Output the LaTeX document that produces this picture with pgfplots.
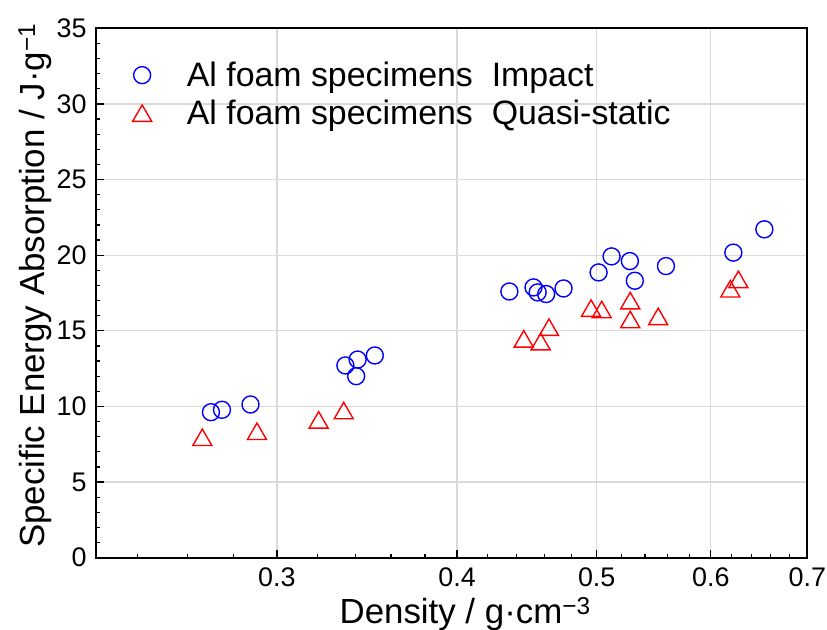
\documentclass[border=0pt]{standalone}
\usepackage{pgfplots}
\pgfplotsset{compat=1.18}
\usepackage{fontspec}
\setmainfont{Liberation Sans}
\begin{document}
\begin{tikzpicture}
\begin{axis}[
  at={(0,0)}, anchor=south west,
  scale only axis, width=711.3bp, height=529.4bp,
  xmode=log, xmin=0.2247, xmax=0.7, ymin=0, ymax=35,
  xtick={0.3,0.4,0.5,0.6,0.7},
  xticklabels={0.3,0.4,0.5,0.6,0.7},
  minor xtick={0.24,0.26,0.28,0.32,0.34,0.36,0.38,0.42,0.44,0.46,0.48,0.52,0.54,0.56,0.58,0.62,0.64,0.66,0.68},
  ytick={0,5,10,15,20,25,30,35},
  minor ytick={1,2,3,4,6,7,8,9,11,12,13,14,16,17,18,19,21,22,23,24,26,27,28,29,31,32,33,34},
  tick align=inside, xtick pos=bottom, ytick pos=left,
  major tick length=8bp, minor tick length=4bp,
  every tick/.style={black, line width=1.3bp},
  axis line style={line width=2bp},
  grid=major, major grid style={color=black!15, line width=1.2bp},
  /pgf/number format/assume math mode=true,
  tick label style={font=\fontsize{27}{32}\selectfont},
  yticklabel style={xshift=-6bp},
  xticklabel style={yshift=-6bp},
  xlabel={Density / g·cm\textsuperscript{−3}},
  ylabel={Specific Energy Absorption / J·g\textsuperscript{−1}},
  label style={font=\fontsize{35}{40}\selectfont},
  xlabel style={at={(axis description cs:0.519,-0.106)}, anchor=center},
  ylabel style={at={(axis description cs:-0.086,0.514)}, anchor=center},
  legend style={draw=none, fill=none, at={(axis description cs:0.0285,0.944)}, anchor=north west,
    font=\fontsize{34}{40}\selectfont, row sep=8bp},
  legend cell align=left,
  legend image code/.code={\path (-22bp,0bp) (42bp,0bp); \draw[#1] plot coordinates {(0bp,0bp)};},
]
\addplot[only marks, mark=o, mark size=8.5bp, blue, line width=1.4bp] coordinates {
(0.2700,9.62) (0.2748,9.78) (0.2876,10.13)
(0.3347,12.71) (0.3413,13.10) (0.3405,12.00) (0.3508,13.37)
(0.4349,17.60) (0.4520,17.87) (0.4550,17.54) (0.4612,17.43) (0.4742,17.80)
(0.5015,18.86) (0.5120,19.92) (0.5272,19.61) (0.5314,18.31) (0.5585,19.28)
(0.6220,20.17) (0.6536,21.71)
};
\addlegendentry{Al foam specimens\ \ Impact}
\addplot[only marks, mark=triangle, mark size=11bp, red, line width=1.4bp, mark options={yshift=-2.75bp}] coordinates {
(0.2663,7.96) (0.2906,8.36) (0.3207,9.11) (0.3338,9.73)
(0.4450,14.47) (0.4572,14.29) (0.4633,15.24)
(0.4955,16.50) (0.5040,16.41) (0.5275,17.00) (0.5275,15.75) (0.5516,15.95)
(0.6190,17.78) (0.6270,18.40)
};
\addlegendentry{Al foam specimens\ \ Quasi-static}
\end{axis}
\pgfresetboundingbox
\path[use as bounding box] (-96bp,-72.3bp) rectangle (731bp,557.7bp);
\end{tikzpicture}
\end{document}
